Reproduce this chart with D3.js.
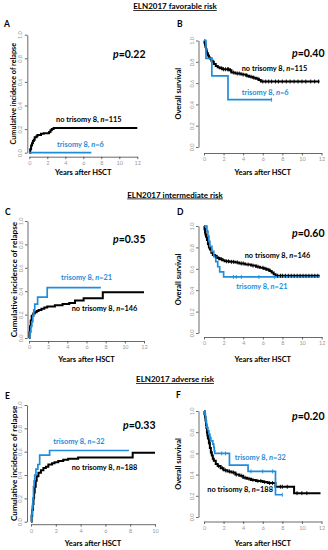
<!DOCTYPE html>
<html><head><meta charset="utf-8">
<script src="https://cdn.jsdelivr.net/npm/d3@7"></script>
<style>body{margin:0;background:#fff}svg{display:block}text{font-family:Lato,"Open Sans",sans-serif}</style>
</head><body>
<svg id="c" width="328" height="550"></svg>
<script>
// ---------------- data ----------------
const groupTitles = ["ELN2017 favorable risk", "ELN2017 intermediate risk", "ELN2017 adverse risk"];
const panelLetters = ["A", "B", "C", "D", "E", "F"];
const pValues = ["0.22", "0.40", "0.35", "0.60", "0.33", "0.20"];
const yTitles = ["Cumulative incidence of relapse", "Overall survival", "Cumulative incidence of relapse", "Overall survival", "Cumulative incidence of relapse", "Overall survival"];
const xTitle = "Years after HSCT";
const nNoTri = [115, 115, 146, 146, 188, 188];
const nTri = [6, 6, 21, 21, 32, 32];
const yTicks = [0, 0.2, 0.4, 0.6, 0.8, 1.0];
const xTicks12 = [0, 2, 4, 6, 8, 10, 12];
const xTicks10 = [0, 2, 4, 6, 8, 10];

// step curves: [years, value]
const cirFavNoTri = [[0,0],[0.1,0.03],[0.2,0.06],[0.3,0.08],[0.4,0.1],[0.5,0.11],[0.6,0.13],[0.8,0.14],[0.9,0.15],[1.3,0.16],[1.6,0.165],[2.2,0.175],[2.35,0.19],[2.5,0.2],[2.7,0.21],[12,0.21]];
const cirFavTri = [[0,0],[6.9,0]];
const osFavNoTri = [[0,1],[0.05,0.98],[0.1,0.96],[0.15,0.94],[0.2,0.92],[0.25,0.9],[0.3,0.88],[0.4,0.86],[0.5,0.84],[0.6,0.83],[0.75,0.81],[0.9,0.8],[1.0,0.78],[1.2,0.76],[1.4,0.75],[1.6,0.74],[1.9,0.73],[2.6,0.72],[2.8,0.7],[3.2,0.69],[3.8,0.68],[4.3,0.67],[4.6,0.66],[5.0,0.65],[5.3,0.64],[5.6,0.63],[5.8,0.615],[11.8,0.615]];
const osFavNoTriCens = [1.8,2.0,2.2,2.4,2.5,2.7,3.0,3.4,3.6,4.0,4.4,4.8,5.1,5.5,6.0,6.3,6.6,6.9,7.3,7.6,8.0,8.4,8.8,9.2,9.6,10.0,10.4,10.9,11.3,11.7];
const osFavTri = [[0,1],[0.2,0.833],[0.8,0.667],[2.45,0.444],[6.9,0.444]];
const osFavTriCens = [6.9];

const cirIntNoTri = [[0,0],[0.05,0.05],[0.1,0.1],[0.18,0.15],[0.28,0.19],[0.45,0.21],[0.6,0.22],[0.8,0.23],[1.0,0.24],[1.3,0.25],[1.6,0.26],[1.9,0.27],[2.7,0.28],[3.5,0.29],[4.2,0.3],[4.8,0.32],[5.7,0.34],[7.7,0.39],[12,0.39]];
const cirIntTri = [[0,0],[0.1,0.05],[0.2,0.1],[0.3,0.14],[0.4,0.19],[0.5,0.24],[0.6,0.29],[0.9,0.35],[1.9,0.43],[7.5,0.43]];
const osIntNoTri = [[0,1],[0.05,0.97],[0.1,0.94],[0.15,0.92],[0.2,0.9],[0.3,0.87],[0.4,0.83],[0.5,0.8],[0.6,0.78],[0.75,0.75],[0.9,0.73],[1.1,0.72],[1.3,0.7],[1.6,0.69],[1.9,0.68],[2.1,0.67],[2.6,0.665],[3.2,0.66],[3.6,0.65],[4.2,0.64],[4.8,0.63],[5.3,0.62],[5.7,0.61],[6.1,0.6],[6.4,0.59],[6.7,0.58],[6.9,0.565],[7.1,0.55],[7.3,0.535],[11.8,0.535]];
const osIntNoTriCens = [1.2,1.5,1.8,2.3,2.5,2.8,3.0,3.4,3.8,4.0,4.5,5.0,5.5,6.0,6.3,6.6,7.5,7.8,8.0,8.3,8.6,8.9,9.2,9.5,9.8,10.1,10.4,10.7,11.0,11.3,11.6];
const osIntTri = [[0,1],[0.3,0.952],[0.4,0.905],[0.5,0.857],[0.6,0.81],[0.8,0.762],[1.0,0.714],[1.2,0.667],[1.4,0.619],[1.6,0.571],[2.0,0.524],[11.8,0.524]];
const osIntTriCens = [3.0,3.3,3.8,5.6,7.2];

const cirAdvNoTri = [[0,0],[0.05,0.05],[0.1,0.1],[0.15,0.15],[0.2,0.2],[0.25,0.25],[0.3,0.3],[0.38,0.35],[0.46,0.39],[0.6,0.42],[0.8,0.44],[1.0,0.46],[1.2,0.47],[1.4,0.49],[1.7,0.5],[1.9,0.51],[2.2,0.52],[2.6,0.53],[3.0,0.54],[3.8,0.55],[8.2,0.59],[10,0.59]];
const cirAdvTri = [[0,0],[0.05,0.06],[0.1,0.13],[0.15,0.2],[0.2,0.3],[0.25,0.35],[0.3,0.4],[0.4,0.45],[0.55,0.49],[0.7,0.57],[1.5,0.61],[7.9,0.61]];
const osAdvNoTri = [[0,1],[0.05,0.97],[0.1,0.94],[0.15,0.91],[0.2,0.87],[0.25,0.84],[0.3,0.8],[0.35,0.77],[0.4,0.74],[0.5,0.7],[0.6,0.65],[0.7,0.61],[0.8,0.58],[0.9,0.55],[1.0,0.53],[1.2,0.5],[1.4,0.48],[1.7,0.46],[2.0,0.44],[2.4,0.43],[2.8,0.42],[3.2,0.4],[3.6,0.39],[4.0,0.37],[4.4,0.36],[4.8,0.35],[5.3,0.34],[6.0,0.33],[6.5,0.32],[7.3,0.285],[9.2,0.225],[11.9,0.225]];
const osAdvNoTriCens = [0.3,0.5,0.7,1.5,1.9,2.2,2.6,3.0,3.3,3.8,4.2,4.6,5.0,5.5,5.8,6.2,6.7,7.0,7.8,8.0,8.5,9.5,10.0,10.5];
const osAdvTri = [[0,1],[0.1,0.969],[0.15,0.938],[0.2,0.906],[0.25,0.875],[0.3,0.844],[0.4,0.813],[0.5,0.781],[0.6,0.75],[0.7,0.719],[0.9,0.688],[1.0,0.656],[1.05,0.625],[1.1,0.6],[2.6,0.49],[4.5,0.43],[7.3,0.21],[8.0,0.21]];
const osAdvTriCens = [0.2,0.6,1.8,2.2,4.8,6.0,7.0,8.0];

// ---------------- drawing ----------------
const BLUE = "#1f8ddb";
const svg = d3.select("#c");

const panels = [
  {x0:29.3, x1:137.3, yT:34.7, yB:152.7, xMax:12, xt:xTicks12, ox:2, oy:4, noTri:cirFavNoTri, tri:cirFavTri,
   letter:[4,27], p:[113,57.5], lNo:[56,122], lTri:[57,146.7], yTitleX:16, xTitleY:175, ytFs:7.2},
  {x0:204, x1:321.5, yT:40.5, yB:147, xMax:12, xt:xTicks12, ox:5.5, oy:6, noTri:osFavNoTri, tri:osFavTri, cNo:osFavNoTriCens, cTri:osFavTriCens,
   letter:[177,27], p:[292,57], lNo:[241.7,70.7], lTri:[241.7,95], yTitleX:181, xTitleY:175, ytFs:7.5},
  {x0:29, x1:144, yT:221, yB:338, xMax:12, xt:xTicks12, ox:1.5, oy:3, noTri:cirIntNoTri, tri:cirIntTri,
   letter:[5,214.7], p:[113,243], lNo:[71.7,310.7], lTri:[61,280], yTitleX:16.5, xTitleY:361.5, ytFs:8.2},
  {x0:204, x1:321.7, yT:226, yB:333, xMax:12, xt:xTicks12, ox:5.5, oy:4, noTri:osIntNoTri, tri:osIntTri, cNo:osIntNoTriCens, cTri:osIntTriCens,
   letter:[177,215], p:[292,236.7], lNo:[244.7,258.3], lTri:[236.3,288.7], yTitleX:181, xTitleY:362, ytFs:7.5},
  {x0:31, x1:155, yT:405, yB:521.7, xMax:10, xt:xTicks10, ox:4, oy:2.5, noTri:cirAdvNoTri, tri:cirAdvTri,
   letter:[5,399], p:[123,429], lNo:[71.7,470.3], lTri:[53.3,444.3], yTitleX:16.5, xTitleY:545.5, ytFs:8.2},
  {x0:204, x1:321.5, yT:411, yB:517, xMax:12, xt:xTicks12, ox:5.5, oy:4.5, noTri:osAdvNoTri, tri:osAdvTri, cNo:osAdvNoTriCens, cTri:osAdvTriCens,
   letter:[176,398], p:[292,420], lNo:[207.3,492.3], lTri:[234.7,460], yTitleX:181, xTitleY:546, ytFs:7.5}
];

function stepAt(arr, t) {
  let v = arr[0][1];
  for (const d of arr) { if (d[0] <= t) v = d[1]; }
  return v;
}

function label(g, pos, name, n, color) {
  const t = g.append("text").attr("x", pos[0]).attr("y", pos[1])
    .attr("font-size", 7.4).attr("font-weight", 700).attr("fill", color);
  t.append("tspan").text(name + ", ");
  t.append("tspan").attr("font-style", "italic").text("n");
  t.append("tspan").text("=" + n);
}

panels.forEach((cfg, i) => {
  const g = svg.append("g");
  const x = d3.scaleLinear().domain([0, cfg.xMax]).range([cfg.x0, cfg.x1]);
  const y = d3.scaleLinear().domain([0, 1]).range([cfg.yB, cfg.yT]);

  const xa = g.append("g").attr("transform", `translate(0,${cfg.yB + cfg.oy})`)
    .call(d3.axisBottom(x).tickValues(cfg.xt).tickSize(2.5).tickSizeOuter(0).tickPadding(2).tickFormat(d3.format("d")));
  const ya = g.append("g").attr("transform", `translate(${cfg.x0 - cfg.ox},0)`)
    .call(d3.axisLeft(y).tickValues(yTicks).tickSize(2.5).tickSizeOuter(0).tickFormat(d3.format(".1f")));
  [xa, ya].forEach(a => {
    a.select(".domain").attr("stroke", "#444").attr("stroke-width", 0.8);
    a.selectAll(".tick line").attr("stroke", "#444").attr("stroke-width", 0.8);
    a.selectAll(".tick text").attr("fill", "#999").attr("font-size", 5.5).attr("font-family", "Lato, sans-serif");
  });
  ya.selectAll(".tick text").attr("x", null).attr("dy", null).attr("text-anchor", "middle")
    .attr("transform", "translate(-5,0) rotate(-90)");

  const line = d3.line().x(d => x(d[0])).y(d => y(d[1])).curve(d3.curveStepAfter);
  g.append("path").attr("d", line(cfg.noTri)).attr("fill", "none").attr("stroke", "#000").attr("stroke-width", 2);
  g.append("path").attr("d", line(cfg.tri)).attr("fill", "none").attr("stroke", BLUE).attr("stroke-width", 1.7);
  if (cfg.cNo) {
    g.selectAll(null).data(cfg.cNo).enter().append("line")
      .attr("x1", d => x(d)).attr("x2", d => x(d))
      .attr("y1", d => y(stepAt(cfg.noTri, d)) - 2).attr("y2", d => y(stepAt(cfg.noTri, d)) + 2)
      .attr("stroke", "#000").attr("stroke-width", 0.9);
    g.selectAll(null).data(cfg.cTri).enter().append("line")
      .attr("x1", d => x(d)).attr("x2", d => x(d))
      .attr("y1", d => y(stepAt(cfg.tri, d)) - 2).attr("y2", d => y(stepAt(cfg.tri, d)) + 2)
      .attr("stroke", BLUE).attr("stroke-width", 0.9);
  }

  g.append("text").attr("x", (cfg.x0 + cfg.x1) / 2).attr("y", cfg.xTitleY).attr("text-anchor", "middle")
    .attr("font-size", 7.5).attr("font-weight", 700).text(xTitle);
  g.append("text").attr("transform", `translate(${cfg.yTitleX},${(cfg.yT + cfg.yB) / 2}) rotate(-90)`)
    .attr("text-anchor", "middle").attr("font-size", cfg.ytFs).attr("font-weight", 700).text(yTitles[i]);
  g.append("text").attr("x", cfg.letter[0]).attr("y", cfg.letter[1]).attr("font-size", 8.5).attr("font-weight", 700).text(panelLetters[i]);

  const pt = g.append("text").attr("x", cfg.p[0]).attr("y", cfg.p[1]).attr("font-size", 10.5).attr("font-weight", 700);
  pt.append("tspan").attr("font-style", "italic").text("p");
  pt.append("tspan").text("=" + pValues[i]);

  label(g, cfg.lNo, "no trisomy 8", nNoTri[i], "#000");
  label(g, cfg.lTri, "trisomy 8", nTri[i], BLUE);
});

[9, 197.5, 382].forEach((yy, k) => {
  svg.append("text").attr("x", 175).attr("y", yy).attr("text-anchor", "middle")
    .attr("font-size", 8).attr("font-weight", 700).attr("text-decoration", "underline").text(groupTitles[k]);
});
</script>
</body></html>
